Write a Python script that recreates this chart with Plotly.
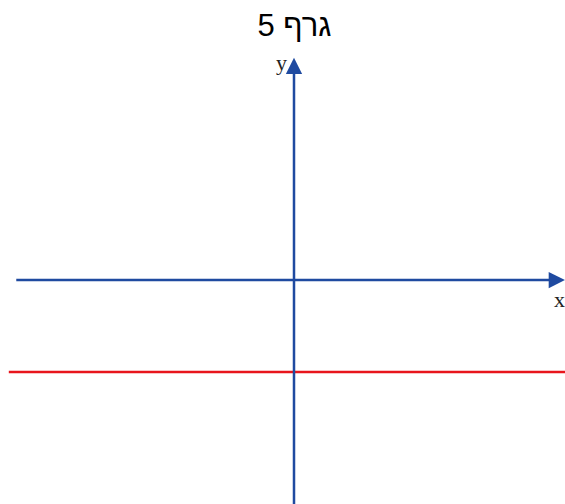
import plotly.graph_objects as go

# horizontal line y = -2 (red)
line_x = [-6.2, 6.0]
line_y = [-2, -2]

# axes extents (tail, tip)
x_axis = [-6.07, 5.89]
y_axis = [-5.2, 4.83]

title_text = "גרף 5"

blue = "#1f4aa0"
red = "#e8151c"

fig = go.Figure()

fig.add_trace(go.Scatter(x=line_x, y=line_y, mode="lines",
                         line=dict(color=red, width=2.5), hoverinfo="skip"))

# x axis arrow
fig.add_annotation(x=x_axis[1], y=0, ax=x_axis[0], ay=0,
                   xref="x", yref="y", axref="x", ayref="y",
                   showarrow=True, arrowhead=2, arrowsize=1.3,
                   arrowwidth=2.5, arrowcolor=blue, text="")
# y axis arrow
fig.add_annotation(x=0, y=y_axis[1], ax=0, ay=y_axis[0],
                   xref="x", yref="y", axref="x", ayref="y",
                   showarrow=True, arrowhead=2, arrowsize=1.3,
                   arrowwidth=2.5, arrowcolor=blue, text="")

fig.add_annotation(x=5.78, y=-0.42, xref="x", yref="y", text="x",
                   showarrow=False,
                   font=dict(family="Liberation Serif", size=22, color="#222222"))
fig.add_annotation(x=-0.28, y=4.72, xref="x", yref="y", text="y",
                   showarrow=False,
                   font=dict(family="Liberation Serif", size=22, color="#222222"))

fig.update_layout(
    width=565, height=504,
    margin=dict(l=0, r=0, t=0, b=0),
    paper_bgcolor="white", plot_bgcolor="white",
    showlegend=False,
    title=dict(text=title_text, x=0.521, y=0.951, xanchor="center", yanchor="middle",
               font=dict(family="Liberation Sans", size=31, color="black")),
    xaxis=dict(range=[-294 / 46, 271 / 46], visible=False, fixedrange=True),
    yaxis=dict(range=[-224 / 46, 280 / 46], visible=False, fixedrange=True),
)

fig.write_html("out.html", config={"displayModeBar": False},
               post_script="document.body.style.margin='0';document.body.style.overflow='hidden';")
